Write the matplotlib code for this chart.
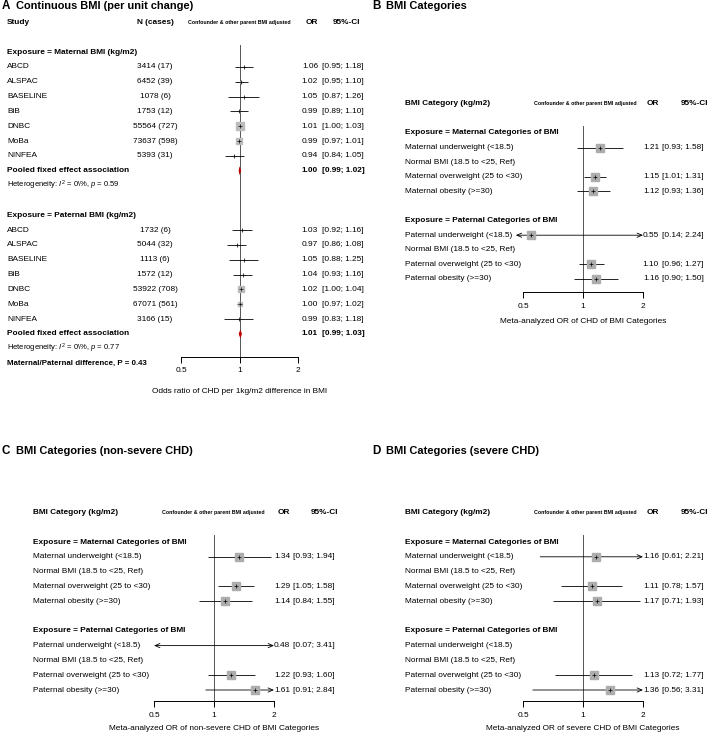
import matplotlib
matplotlib.use('Agg')
from matplotlib import pyplot as plt
from matplotlib.ticker import NullLocator
from matplotlib.transforms import blended_transform_factory
import numpy as np

plt.rcParams['font.family'] = 'Liberation Sans'
plt.rcParams['mathtext.fontset'] = 'custom'
plt.rcParams['mathtext.rm'] = 'Liberation Sans'
plt.rcParams['mathtext.it'] = 'Liberation Sans:italic'

W, H = 709, 733
FS = 5.95
FS_SMALL = 3.8
FS_TITLE = 7.9
SQ_COLOR = '#bcbcbc'
SQ_COLOR_CAT = '#adadad'

# ---- panel A: continuous BMI ----
STUDIES = ['ABCD', 'ALSPAC', 'BASELINE', 'BiB', 'DNBC', 'MoBa', 'NINFEA']

MAT_N = ['3414 (17)', '6452 (39)', '1078 (6)', '1753 (12)', '55564 (727)', '73637 (598)', '5393 (31)']
MAT_OR = [1.06, 1.02, 1.05, 0.99, 1.01, 0.99, 0.94]
MAT_LO = [0.95, 0.95, 0.87, 0.89, 1.00, 0.97, 0.84]
MAT_HI = [1.18, 1.10, 1.26, 1.10, 1.03, 1.01, 1.05]
MAT_POOLED = [1.00, 0.99, 1.02]
MAT_HET = ['0%', '0.59']

PAT_N = ['1732 (6)', '5044 (32)', '1113 (6)', '1572 (12)', '53922 (708)', '67071 (561)', '3166 (15)']
PAT_OR = [1.03, 0.97, 1.05, 1.04, 1.02, 1.00, 0.99]
PAT_LO = [0.92, 0.86, 0.88, 0.93, 1.00, 0.97, 0.83]
PAT_HI = [1.16, 1.08, 1.25, 1.16, 1.04, 1.02, 1.18]
PAT_POOLED = [1.01, 0.99, 1.03]
PAT_HET = ['0%', '0.77']

DIFF_P = '0.43'

# ---- panels B, C, D: BMI categories ----
MAT_CATS = ['Maternal underweight (<18.5)', 'Normal BMI (18.5 to <25, Ref)',
            'Maternal overweight (25 to <30)', 'Maternal obesity (>=30)']
PAT_CATS = ['Paternal underweight (<18.5)', 'Normal BMI (18.5 to <25, Ref)',
            'Paternal overweight (25 to <30)', 'Paternal obesity (>=30)']

nan = np.nan
B_MAT_OR = [1.21, nan, 1.15, 1.12]
B_MAT_LO = [0.93, nan, 1.01, 0.93]
B_MAT_HI = [1.58, nan, 1.31, 1.36]
B_PAT_OR = [0.55, nan, 1.10, 1.16]
B_PAT_LO = [0.14, nan, 0.96, 0.90]
B_PAT_HI = [2.24, nan, 1.27, 1.50]

C_MAT_OR = [1.34, nan, 1.29, 1.14]
C_MAT_LO = [0.93, nan, 1.05, 0.84]
C_MAT_HI = [1.94, nan, 1.58, 1.55]
C_PAT_OR = [0.48, nan, 1.22, 1.61]
C_PAT_LO = [0.07, nan, 0.93, 0.91]
C_PAT_HI = [3.41, nan, 1.60, 2.84]

D_MAT_OR = [1.16, nan, 1.11, 1.17]
D_MAT_LO = [0.61, nan, 0.78, 0.71]
D_MAT_HI = [2.21, nan, 1.57, 1.93]
D_PAT_OR = [nan, nan, 1.13, 1.36]
D_PAT_LO = [nan, nan, 0.72, 0.56]
D_PAT_HI = [nan, nan, 1.77, 3.31]


def make_forest(fig, x05, x2, y0, dy, top_row, spine_row):
    top = y0 + top_row * dy
    bottom = y0 + spine_row * dy
    ax = fig.add_axes([x05 / W, 1 - bottom / H, (x2 - x05) / W, (bottom - top) / H])
    ax.set_xscale('log')
    ax.set_xlim(0.5, 2)
    ax.set_ylim(spine_row, top_row)
    ax.patch.set_visible(False)
    for s in ['top', 'left', 'right']:
        ax.spines[s].set_visible(False)
    ax.spines['bottom'].set_linewidth(0.7)
    ax.yaxis.set_visible(False)
    ax.set_xticks([0.5, 1, 2])
    ax.set_xticklabels(['0.5', '1', '2'])
    ax.xaxis.set_minor_locator(NullLocator())
    ax.tick_params(axis='x', length=4, width=0.7, pad=3.5, labelsize=FS)
    ax.axvline(1, color='#555555', lw=0.7, zorder=1)
    return ax


def put(fig, ax, x, row, s, **kw):
    kw.setdefault('fontsize', FS)
    tr = blended_transform_factory(fig.transFigure, ax.transData)
    ax.text(x / W, row, s, transform=tr, va='center', **kw)


def draw_est(ax, row, est, lo, hi, size, color, lims=(0.5, 2)):
    if np.isnan(est):
        return
    a, b = max(lo, lims[0]), min(hi, lims[1])
    left_out, right_out = lo < lims[0], hi > lims[1]
    if not left_out and not right_out:
        ax.plot([a, b], [row, row], color='black', lw=0.6, solid_capstyle='butt', zorder=2)
    else:
        style = '<->' if (left_out and right_out) else ('<-' if left_out else '->')
        ax.annotate('', xy=(b, row), xytext=(a, row), xycoords='data', annotation_clip=False,
                    arrowprops=dict(arrowstyle=style + ',head_length=0.35,head_width=0.15',
                                    lw=0.6, color='black', shrinkA=0, shrinkB=0))
    if lims[0] <= est <= lims[1]:
        if size > 0.3:
            ax.plot(est, row, marker='s', ms=size, color=color, mec=color, zorder=3)
        ax.plot(est, row, marker='+', ms=2.2, mew=0.5, color='black', zorder=4)


def title(x, y, letter, text):
    fig.text(x / W, 1 - y / H, letter, fontsize=FS_TITLE + 0.5, fontweight='bold', va='center')
    fig.text((x + 14) / W, 1 - y / H, text, fontsize=FS_TITLE, fontweight='bold', va='center')


fig = plt.figure(figsize=(W / 100, H / 100), dpi=100)

# ================= Panel A =================
y0, dy = 52, 14.84
axA = make_forest(fig, 181, 298, y0, dy, -0.5, 20.55)
title(2, 6, 'A', 'Continuous BMI (per unit change)')
put(fig, axA, 7, -2, 'Study', fontweight='bold')
put(fig, axA, 155, -2, 'N (cases)', fontweight='bold', ha='center')
put(fig, axA, 239, -2, 'Confounder & other parent BMI adjusted', fontweight='bold', ha='center', fontsize=FS_SMALL)
put(fig, axA, 318, -2, 'OR', fontweight='bold', ha='right')
put(fig, axA, 360, -2, '95%-CI', fontweight='bold', ha='right')

all_lo = np.array(MAT_LO + PAT_LO)
all_hi = np.array(MAT_HI + PAT_HI)
wts = 1 / ((np.log(all_hi) - np.log(all_lo)) / 3.92) ** 2
sizes = 5.2 * np.sqrt(wts / wts.max())

groups = [('Exposure = Maternal BMI (kg/m2)', MAT_N, MAT_OR, MAT_LO, MAT_HI, MAT_POOLED, MAT_HET, sizes[:7], 0),
          ('Exposure = Paternal BMI (kg/m2)', PAT_N, PAT_OR, PAT_LO, PAT_HI, PAT_POOLED, PAT_HET, sizes[7:], 11)]
for name, ns, ors, los, his, pooled, het, sz, r0 in groups:
    put(fig, axA, 7, r0, name, fontweight='bold')
    for i, study in enumerate(STUDIES):
        row = r0 + 1 + i
        put(fig, axA, 7, row, study)
        put(fig, axA, 155, row, ns[i], ha='center')
        put(fig, axA, 318, row, f'{ors[i]:.2f}', ha='right')
        put(fig, axA, 322, row, f'[{los[i]:.2f}; {his[i]:.2f}]')
        draw_est(axA, row, ors[i], los[i], his[i], sz[i], SQ_COLOR)
    prow = r0 + 8
    put(fig, axA, 7, prow, 'Pooled fixed effect association', fontweight='bold')
    put(fig, axA, 318, prow, f'{pooled[0]:.2f}', ha='right', fontweight='bold')
    put(fig, axA, 322, prow, f'[{pooled[1]:.2f}; {pooled[2]:.2f}]', fontweight='bold')
    axA.fill([pooled[1], pooled[0], pooled[2], pooled[0]], [prow, prow - 0.3, prow, prow + 0.3],
             color='#c00000', lw=0, zorder=3)
    put(fig, axA, 7, r0 + 9, rf'Heterogeneity: $I^2$ = {het[0]}, $p$ = {het[1]}'.replace('%', r'\%'),
        fontsize=5.5)

put(fig, axA, 7, 21, f'Maternal/Paternal difference, P = {DIFF_P}', fontweight='bold', fontsize=5.7)
axA.text(1, 22.85, 'Odds ratio of CHD per 1kg/m2 difference in BMI', ha='center', va='center', fontsize=FS)


# ================= Panels B, C, D =================
def category_panel(x05, lx, x_conf, y0, dy, spine_row, xlabel_row, xlabel,
                   mat, pat, lims, x_or, x_ci, x_hdr_ci):
    ax = make_forest(fig, x05, x05 + 120, y0, dy, -0.45, spine_row)
    put(fig, ax, lx, -2, 'BMI Category (kg/m2)', fontweight='bold')
    put(fig, ax, x_conf, -2, 'Confounder & other parent BMI adjusted', fontweight='bold',
        ha='center', fontsize=FS_SMALL)
    put(fig, ax, x_or, -2, 'OR', fontweight='bold', ha='right')
    put(fig, ax, x_hdr_ci, -2, '95%-CI', fontweight='bold', ha='right')
    blocks = [('Exposure = Maternal Categories of BMI', MAT_CATS, mat, 0),
              ('Exposure = Paternal Categories of BMI', PAT_CATS, pat, 6)]
    for name, cats, (ors, los, his), r0 in blocks:
        put(fig, ax, lx, r0, name, fontweight='bold')
        for i, cat in enumerate(cats):
            row = r0 + 1 + i
            put(fig, ax, lx, row, cat)
            if not np.isnan(ors[i]):
                put(fig, ax, x_or, row, f'{ors[i]:.2f}', ha='right')
                put(fig, ax, x_ci, row, f'[{los[i]:.2f}; {his[i]:.2f}]')
                draw_est(ax, row, ors[i], los[i], his[i], 5.3, SQ_COLOR_CAT, lims)
    ax.text(1, xlabel_row, xlabel, ha='center', va='center', fontsize=FS)
    return ax


title(372, 6, 'B', 'BMI Categories')
category_panel(523, 405, 585, 133, 14.6, 10.9, 12.9,
               'Meta-analyzed OR of CHD of BMI Categories',
               (B_MAT_OR, B_MAT_LO, B_MAT_HI), (B_PAT_OR, B_PAT_LO, B_PAT_HI),
               (0.46, 2), 659, 662, 708)

title(2, 451, 'C', 'BMI Categories (non-severe CHD)')
category_panel(154, 33, 213, 542, 14.8, 10.75, 12.57,
               'Meta-analyzed OR of non-severe CHD of BMI Categories',
               (C_MAT_OR, C_MAT_LO, C_MAT_HI), (C_PAT_OR, C_PAT_LO, C_PAT_HI),
               (0.5, 2), 290, 293, 338)

title(372, 451, 'D', 'BMI Categories (severe CHD)')
category_panel(523, 405, 585, 542, 14.8, 10.75, 12.57,
               'Meta-analyzed OR of severe CHD of BMI Categories',
               (D_MAT_OR, D_MAT_LO, D_MAT_HI), (D_PAT_OR, D_PAT_LO, D_PAT_HI),
               (0.5, 2), 659, 662, 708)

fig.savefig('out.png', dpi=100)
